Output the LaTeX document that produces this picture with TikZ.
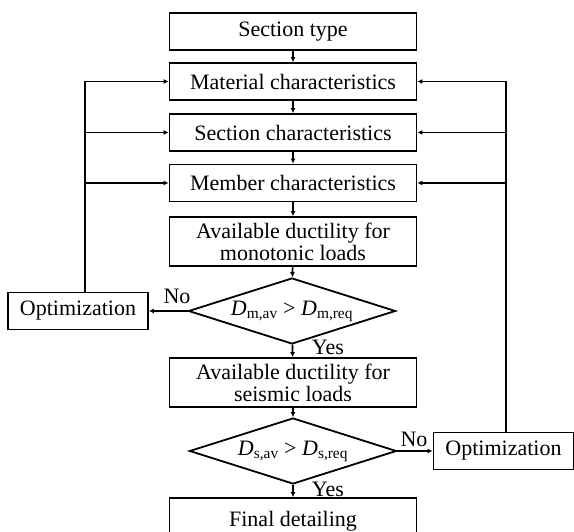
\documentclass[tikz,border=0pt]{standalone}
\usepackage{fontspec}
\setmainfont{Liberation Serif}
\usetikzlibrary{arrows.meta,shapes.geometric}
\begin{document}
\begin{tikzpicture}[x=1pt,y=-1pt, line width=1.7pt,
  txt/.style={font=\fontsize{22}{22}\selectfont},
  lbl/.style={txt, inner sep=0pt},
  box/.style={draw, txt, line width=1.8pt, minimum width=247pt, minimum height=37pt, inner sep=0pt, align=center},
  tall/.style={box, minimum height=49pt},
  opt/.style={box, minimum width=140pt, minimum height=37pt},
  dia/.style={draw, diamond, txt, line width=1.8pt, aspect=3.1, inner sep=0pt, minimum width=207pt, minimum height=66pt},
  arr/.style={-{Latex[length=5pt,width=5pt]}}]
\useasboundingbox (0,0) rectangle (574,532);
\node[box] (st) at (293,31.5) {Section type};
\node[box] (mat) at (293,81.5) {Material characteristics};
\node[box] (sec) at (293,132.5) {Section characteristics};
\node[box] (mem) at (293,183) {Member characteristics};
\node[tall] (mono) at (293,241.5) {Available ductility for\\monotonic loads};
\node[dia] (d1) at (292,311) {\textit{D}\textsubscript{m,av} > \textit{D}\textsubscript{m,req}};
\node[opt] (optL) at (78,311) {Optimization};
\node[tall] (seis) at (293,382.5) {Available ductility for\\seismic loads};
\node[dia] (d2) at (293,451) {\textit{D}\textsubscript{s,av} > \textit{D}\textsubscript{s,req}};
\node[opt] (optR) at (503.5,451) {Optimization};
\node[box, minimum height=46pt] (fin) at (293,521) {Final detailing};
\node[lbl] (no1) at (177,296) {No};
\node[lbl] (yes1) at (328,347) {Yes};
\node[lbl] (no2) at (414,439) {No};
\node[lbl] (yes2) at (328,489) {Yes};
\coordinate (lx) at (85,0);
\coordinate (rx) at (506,0);
\draw[arr] (st) -- (mat);
\draw[arr] (mat) -- (sec);
\draw[arr] (sec) -- (mem);
\draw[arr] (mem) -- (mono);
\draw[arr] (mono) -- (d1);
\draw[arr] (d1) -- (seis);
\draw[arr] (seis) -- (d2);
\draw[arr] (d2) -- (fin.north);
\draw[arr] (d1.west) -- (optL.east);
\draw[arr] (d2.east) -- (optR.west);
\draw (optL.north -| lx) -- (mat.west -| lx);
\draw[arr] (mat.west -| lx) -- (mat.west);
\draw[arr] (sec.west -| lx) -- (sec.west);
\draw[arr] (mem.west -| lx) -- (mem.west);
\draw (optR.north -| rx) -- (mat.east -| rx);
\draw[arr] (mat.east -| rx) -- (mat.east);
\draw[arr] (sec.east -| rx) -- (sec.east);
\draw[arr] (mem.east -| rx) -- (mem.east);
\end{tikzpicture}
\end{document}
